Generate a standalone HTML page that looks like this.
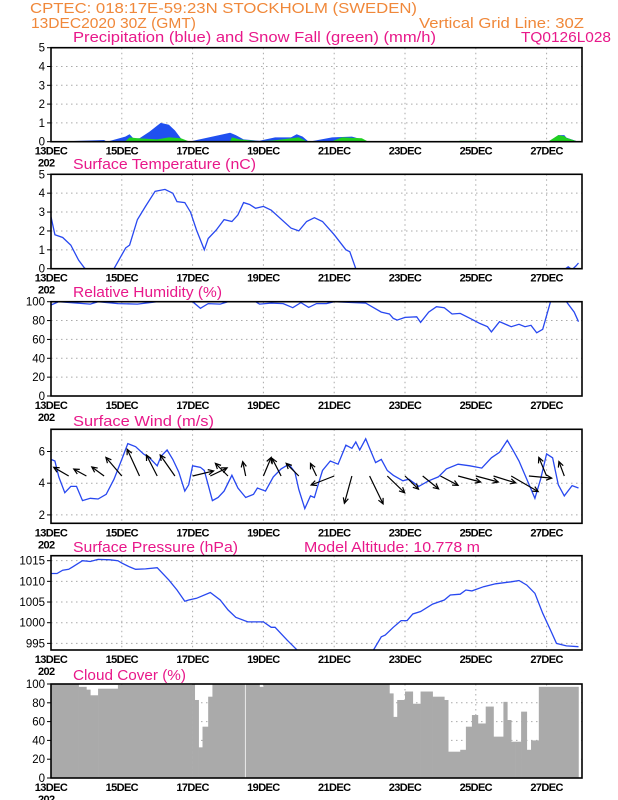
<!DOCTYPE html>
<html><head><meta charset="utf-8">
<style>
html,body{margin:0;padding:0;background:#fff;}
svg{display:block;font-family:"Liberation Sans",sans-serif;}
.hd{fill:#f0883a;font-size:15px;}
.tt{fill:#e8188a;font-size:15px;}
.tk{fill:#000;font-size:11.5px;}
.dl{fill:#000;font-size:11px;font-weight:bold;letter-spacing:-0.6px;}
</style></head>
<body>
<svg id="chart" width="618" height="800" viewBox="0 0 618 800">
<text class="hd" x="30" y="13" textLength="387" lengthAdjust="spacingAndGlyphs">CPTEC:  018:17E-59:23N  STOCKHOLM (SWEDEN)</text>
<text class="hd" x="31" y="28" textLength="165" lengthAdjust="spacingAndGlyphs">13DEC2020 30Z (GMT)</text>
<text class="hd" x="419" y="28" textLength="165" lengthAdjust="spacingAndGlyphs">Vertical Grid Line: 30Z</text>
<text class="tt" x="73" y="42" textLength="363" lengthAdjust="spacingAndGlyphs">Precipitation (blue) and Snow Fall (green) (mm/h)</text>
<text class="tt" x="521" y="42" textLength="90" lengthAdjust="spacingAndGlyphs">TQ0126L028</text>
<text class="tt" x="73" y="169" textLength="183" lengthAdjust="spacingAndGlyphs">Surface Temperature (nC)</text>
<text class="tt" x="73" y="297" textLength="149" lengthAdjust="spacingAndGlyphs">Relative Humidity (%)</text>
<text class="tt" x="73" y="426" textLength="141" lengthAdjust="spacingAndGlyphs">Surface Wind (m/s)</text>
<text class="tt" x="73" y="552" textLength="165" lengthAdjust="spacingAndGlyphs">Surface Pressure (hPa)</text>
<text class="tt" x="304" y="552" textLength="176" lengthAdjust="spacingAndGlyphs">Model Altitude: 10.778 m</text>
<text class="tt" x="73" y="680" textLength="113" lengthAdjust="spacingAndGlyphs">Cloud Cover (%)</text>
</svg>
<script>
const dateLabels=["13DEC","15DEC","17DEC","19DEC","21DEC","23DEC","25DEC","27DEC"];
const dateDays=[0,2,4,6,8,10,12,14];
const precipTicks=[0,1,2,3,4,5];
const tempTicks=[0,1,2,3,4,5];
const rhTicks=[0,20,40,60,80,100];
const windTicks=[2,4,6];
const presTicks=[995,1000,1005,1010,1015];
const cloudTicks=[0,20,40,60,80,100];

const rainDay=[0,1.5,1.58,2.1,2.22,2.33,2.5,2.78,3.1,3.33,3.5,3.72,3.89,5.06,5.22,5.44,5.89,6.33,6.78,6.94,7.11,7.28,7.94,8.5,8.78,8.94,14.06,14.33,14.5,14.56,14.9];
const rainVal=[0,0.09,0,0.27,0.4,0.17,0.18,0.53,1.0,0.9,0.6,0.05,0,0.48,0.35,0.12,0.05,0.23,0.23,0.4,0.27,0,0.23,0.27,0.12,0,0,0.35,0.35,0.22,0];
const snowDay=[0,2.1,2.22,2.44,3.0,3.33,3.67,3.89,5.06,5.11,5.33,5.89,6.33,7.0,7.22,7.94,8.22,8.78,8.94,11.5,11.56,14.06,14.33,14.5,14.56,14.9];
const snowVal=[0.02,0.02,0.23,0.18,0.12,0.23,0.18,0.02,0.02,0.23,0.12,0.02,0.08,0.23,0.02,0.02,0.23,0.18,0.02,0.02,0.05,0.02,0.35,0.3,0.2,0];

const tempDay=[0,0.11,0.33,0.56,0.78,0.94,1.3,1.78,2.11,2.22,2.44,2.67,2.94,3.22,3.44,3.56,3.78,3.94,4.11,4.33,4.44,4.67,4.89,5.11,5.28,5.44,5.61,5.78,6.0,6.22,6.78,7.0,7.22,7.44,7.67,8.0,8.33,8.44,8.61,9.0,12,14.0,14.5,14.61,14.72,14.83,14.9];
const tempVal=[2.75,1.8,1.65,1.25,0.45,0.05,-0.5,0,1.1,1.25,2.6,3.3,4.1,4.2,4.0,3.55,3.5,3.0,2.05,1.0,1.6,2.05,2.6,2.5,2.85,3.5,3.4,3.2,3.3,3.1,2.15,2.0,2.5,2.7,2.5,1.8,1.0,0.9,0,-0.8,-2,-0.5,-0.05,0.1,-0.05,0.15,0.3];

const rhDay=[0,0.22,1.11,1.33,1.89,2.44,3.0,4.0,4.22,4.44,4.78,5.0,5.78,5.89,6.22,6.56,6.83,7.06,7.28,7.5,7.78,8.0,8.89,9.33,9.56,9.67,9.78,10.0,10.33,10.44,10.67,10.89,11.11,11.33,11.56,11.89,12.11,12.33,12.44,12.67,13.0,13.22,13.39,13.56,13.72,13.89,14.11,14.56,14.78,14.9];
const rhVal=[96.5,100,97.5,100,98,97.5,100,100,93,98,97.5,100,100,97.5,98.5,98,93.6,99,94,98,98,100,98.5,89,87,82.3,80.5,83.4,84,78,89,94.7,93.6,87,87.6,81.3,77,73.5,68,78.8,73.5,76,73.5,75,67,70.7,100,100,89,78.8];

const windDay=[0,0.11,0.22,0.39,0.56,0.72,0.89,1.11,1.33,1.56,1.78,2.0,2.17,2.39,2.61,2.78,3.0,3.11,3.28,3.44,3.61,3.78,3.89,4.0,4.22,4.33,4.56,4.72,4.89,5.11,5.28,5.5,5.72,5.83,6.06,6.28,6.5,6.72,6.89,7.0,7.17,7.33,7.44,7.56,7.67,7.89,8.11,8.33,8.5,8.61,8.72,8.89,9.0,9.17,9.33,9.5,9.67,9.94,10.11,10.39,10.67,10.94,11.17,11.5,11.83,12.17,12.44,12.67,12.89,13.06,13.22,13.44,13.67,13.83,14.0,14.17,14.33,14.5,14.72,14.9];
const windVal=[5.5,5.4,4.4,3.4,3.8,3.8,2.9,3.05,3.0,3.3,4.25,5.5,6.5,6.3,5.85,5.6,5.1,5.7,6.1,5.5,4.7,3.5,3.9,5.1,5.0,4.8,2.9,3.1,3.5,4.5,3.7,3.1,3.3,3.7,3.5,4.4,4.9,5.2,4.7,3.6,2.4,3.2,3.1,4.0,4.8,5.4,5.2,6.4,6.2,6.6,6.1,6.8,6.2,5.3,5.5,4.8,4.5,4.15,4.25,3.8,4.15,4.4,4.9,5.2,5.1,4.95,5.6,5.95,6.7,6.05,5.4,4.25,3.05,4.25,5.85,5.6,3.9,3.2,3.85,3.7];
const arrowDay=[0.5,1,1.5,2,2.5,3,3.5,4,4.5,5,5.5,6,6.5,7,7.5,8,8.5,9,9.5,10,10.5,11,11.5,12,12.5,13,13.5,14,14.5];
const arrowU=[-5.0,-4.2,-4.1,-5.3,-4.1,-3.6,-4.9,7.0,5.6,-4.2,-1.0,2.6,-3.0,-4.2,-2.0,-7.7,-2.5,4.5,5.8,4.5,5.3,5.9,7.5,7.5,7.4,9.0,7.6,-2.6,-1.8];
const arrowV=[2.9,2.3,3.0,6.2,8.9,7.0,7.0,1.7,2.7,4.2,4.8,6.2,5.9,4.2,4.2,-3.0,-9.1,-9.3,-5.6,-4.4,-4.3,-3.1,-2.0,-2.0,-2.3,-5.2,-0.7,6.2,4.8];

const presDay=[0,0.17,0.33,0.5,0.61,0.89,1.11,1.33,1.67,1.89,2.0,2.22,2.39,2.67,3.0,3.33,3.56,3.78,3.89,4.11,4.5,4.78,5.0,5.22,5.56,6.0,6.22,6.33,6.67,7.0,8.0,9.0,9.11,9.33,9.44,9.67,9.89,10.06,10.22,10.44,10.78,11.11,11.28,11.56,11.72,11.89,12.22,12.56,13.0,13.22,13.44,13.67,13.89,14.11,14.28,14.56,14.9];
const presVal=[1011.9,1011.9,1012.7,1012.9,1013.5,1015,1014.8,1015.3,1015.2,1015,1014.4,1013.5,1012.9,1013,1013.3,1010.3,1007.9,1005.2,1005.5,1005.9,1007.3,1005.5,1003.1,1001.3,1000.2,1000.2,998.9,998.9,995.8,993.0,990,992,993.4,996.6,997,998.9,1000.5,1000.5,1002.1,1002.7,1004.5,1005.5,1006.7,1006.9,1007.9,1007.7,1008.7,1009.4,1009.9,1010.2,1009.1,1007.1,1002.3,998.2,995,994.4,994.2];

const cloudDay=[0,0.78,1.0,1.11,1.33,1.89,4.0,4.06,4.17,4.28,4.44,4.56,5.44,5.47,5.5,5.89,6.0,9.33,9.56,9.67,9.78,10.0,10.22,10.44,10.78,11.11,11.22,11.56,11.72,11.89,12.06,12.28,12.5,12.78,12.89,13.0,13.11,13.28,13.44,13.56,13.67,13.78,14.9];
const cloudVal=[100,97,94,88,95,99,100,83,32.6,54.6,86.5,100,100,0,100,97,100,100,90,65,83,92,79,92,86.5,83,28,30,54.6,67,58,76,44,81,61.7,38.6,38.6,70.6,30,40,40,97,100];

const svg=document.getElementById('chart');
const NS='http://www.w3.org/2000/svg';
const X0=51,X1=582,PXD=35.4;
function xs(d){return X0+d*PXD;}
function mk(tag,attrs,parent){const e=document.createElementNS(NS,tag);for(const k in attrs)e.setAttribute(k,attrs[k]);(parent||svg).appendChild(e);return e;}
function panel(key,top,bot,mn,mx,ticks){
  const ys=v=>bot-(v-mn)/(mx-mn)*(bot-top);
  const g=mk('g',{});
  
  
  const cp=mk('clipPath',{id:'clip-'+key},g);
  mk('rect',{x:X0,y:top,width:X1-X0,height:bot-top},cp);
  const grid=mk('g',{stroke:'#aaa','stroke-width':1,'stroke-dasharray':'1.5,3.5'},g);
  
  
  dateDays.forEach(d=>{if(d>0)mk('line',{x1:xs(d),x2:xs(d),y1:top,y2:bot},grid);});
  ticks.forEach(t=>{const y=ys(t);if(y>top+1&&y<bot-1)mk('line',{x1:X0,x2:X1,y1:y,y2:y},grid);});
  ticks.forEach(t=>{
    const tx=mk('text',{x:X0-6,y:ys(t)+4,'text-anchor':'end',class:'tk'},g);
    tx.textContent=t;
    
    
    mk('line',{x1:X0-4,x2:X0,y1:ys(t),y2:ys(t),stroke:'#000'},g);
  });
  dateLabels.forEach((l,i)=>{
    const tx=mk('text',{x:xs(dateDays[i]),y:bot+13,'text-anchor':'middle',class:'dl'},g);
    tx.textContent=l;
    
    
  });
  const yr=mk('text',{x:38,y:bot+25,class:'dl','font-size':'9'},g);
  yr.textContent='202';
  
  
  const plot=mk('g',{'clip-path':'url(#clip-'+key+')'},g);
  return {ys,plot,g,top,bot};
}
function border(p){
  const b=mk('rect',{x:X0,y:p.top,width:X1-X0,height:p.bot-p.top,fill:'none',stroke:'#000','stroke-width':1.6},p.g);
  
  
}
function line(p,days,vals,name){
  const d=days.map((dd,i)=>(i?'L':'M')+xs(dd).toFixed(1)+','+p.ys(vals[i]).toFixed(1)).join('');
  const e=mk('path',{d,fill:'none',stroke:'#2848f0','stroke-width':1.3},p.plot);
  
  
}
function area(p,days,vals,color,name){
  let d='M'+xs(days[0])+','+p.ys(0);
  days.forEach((dd,i)=>{d+='L'+xs(dd).toFixed(1)+','+p.ys(vals[i]).toFixed(1);});
  d+='L'+xs(days[days.length-1])+','+p.ys(0)+'Z';
  const e=mk('path',{d,fill:color},p.plot);
  
  
}

const p1=panel('precip',47.7,141.7,0,5,precipTicks);
area(p1,rainDay,rainVal,'#2050f0','precipitation-area');
area(p1,snowDay,snowVal,'#20d020','snowfall-area');
border(p1);

const p2=panel('temperature',174.3,268.7,0,5,tempTicks);
line(p2,tempDay,tempVal,'temperature-line');
border(p2);

const p3=panel('humidity',301.7,396,0,100,rhTicks);
line(p3,rhDay,rhVal,'humidity-line');
border(p3);

const p4=panel('wind',429.3,523.3,1.47,7.4,windTicks);
line(p4,windDay,windVal,'wind-speed-line');
const AS=3.0,TAILY=476;
arrowDay.forEach((d,i)=>{
  const x1=xs(d),y1=TAILY,x2=x1+arrowU[i]*AS,y2=y1-arrowV[i]*AS;
  const a=Math.atan2(y2-y1,x2-x1),h=6;
  const g=mk('g',{stroke:'#000','stroke-width':1.2,fill:'none'},p4.g);
  
  
  mk('line',{x1,y1,x2,y2},g);
  mk('path',{d:`M${x2-h*Math.cos(a-0.45)},${y2-h*Math.sin(a-0.45)}L${x2},${y2}L${x2-h*Math.cos(a+0.45)},${y2-h*Math.sin(a+0.45)}`},g);
});
border(p4);

const p5=panel('pressure',555.7,650,993.4,1016.2,presTicks);
line(p5,presDay,presVal,'pressure-line');
border(p5);

const p6=panel('cloud',684,778,0,100,cloudTicks);
cloudDay.forEach((d,i)=>{
  if(i===cloudDay.length-1)return;
  const x=xs(d),w=xs(cloudDay[i+1])-x,y=p6.ys(cloudVal[i]);
  const r=mk('rect',{x,y,width:w+0.3,height:p6.bot-y,fill:'#aaaaaa'},p6.plot);
  
  
});
border(p6);
</script>
</body></html>
